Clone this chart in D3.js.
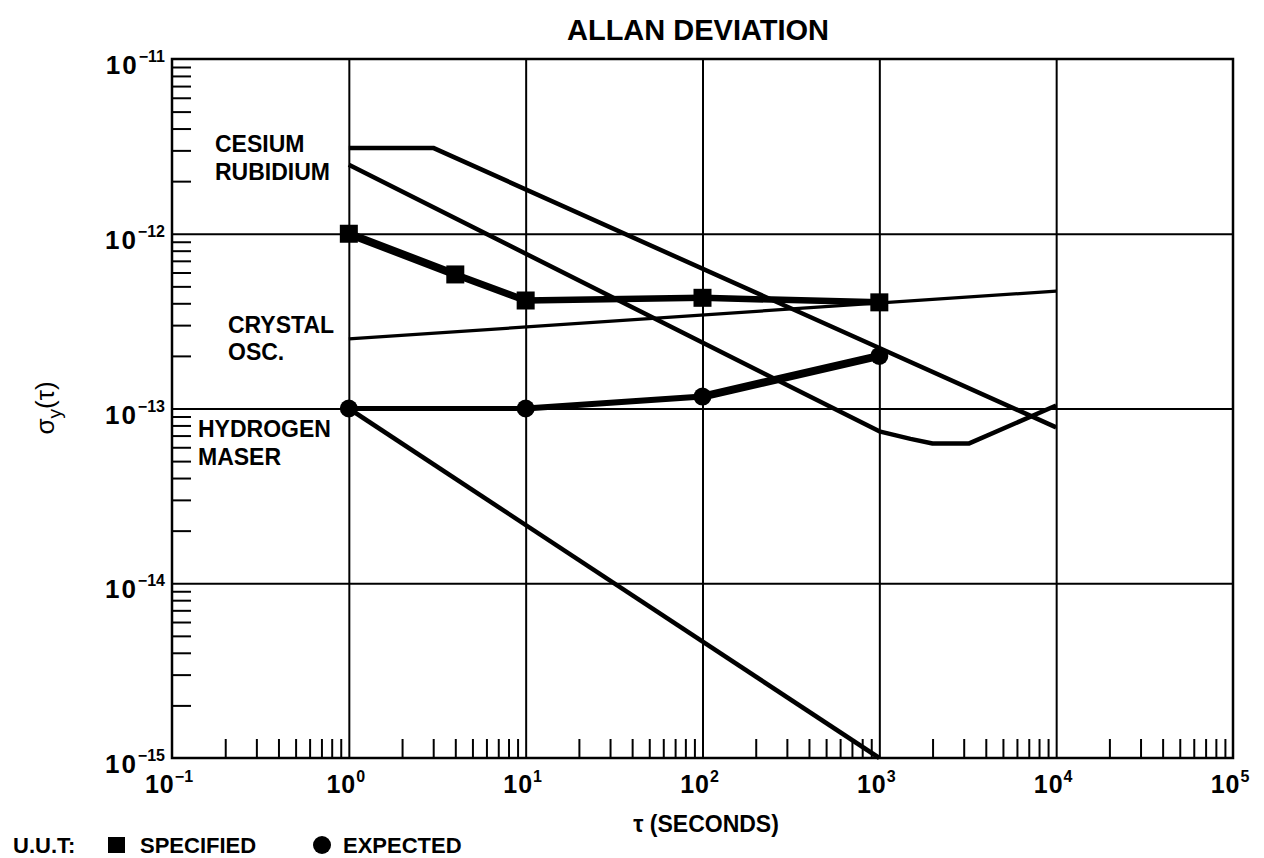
<!DOCTYPE html>
<html>
<head>
<meta charset="utf-8">
<script src="https://cdn.jsdelivr.net/npm/d3@7"></script>
<style>
  html, body { margin: 0; padding: 0; background: #fff; }
  svg { display: block; }
  text { font-family: "Liberation Sans", Arial, Helvetica, sans-serif; font-weight: bold; fill: #000; }
</style>
</head>
<body>
<svg id="chart" width="1264" height="858"></svg>
<script>
// ---------------- DATA ----------------
const title = "ALLAN DEVIATION";
const xTitle = "τ (SECONDS)";
const xTickExponents = [-1, 0, 1, 2, 3, 4, 5];
const yTickExponents = [-15, -14, -13, -12, -11];

// U.U.T. specified (squares)
const tauSpecified = [1, 4, 10, 100, 1000];
const sigmaSpecified = [1.0e-12, 5.85e-13, 4.15e-13, 4.3e-13, 4.05e-13];
// U.U.T. expected (circles)
const tauExpected = [1, 10, 100, 1000];
const sigmaExpected = [1.0e-13, 1.0e-13, 1.17e-13, 2.0e-13];
// reference oscillators
const tauCesium = [1, 3, 10000];
const sigmaCesium = [3.1e-12, 3.1e-12, 7.8e-14];
const tauRubidium = [1, 1000, 1500, 2000, 3200, 10000];
const sigmaRubidium = [2.48e-12, 7.4e-14, 6.7e-14, 6.3e-14, 6.3e-14, 1.04e-13];
const tauCrystal = [1, 10000];
const sigmaCrystal = [2.5e-13, 4.7e-13];
const tauHydrogen = [1, 1000];
const sigmaHydrogen = [1.0e-13, 1.0e-15];

const sourceLabels = [["CESIUM", "RUBIDIUM"], ["CRYSTAL", "OSC."], ["HYDROGEN", "MASER"]];
const legendPrefix = "U.U.T:";
const legendNames = ["SPECIFIED", "EXPECTED"];

// ---------------- LAYOUT ----------------
const L = 172, R = 1233, T = 59, B = 758;
const svg = d3.select("#chart");
svg.append("rect").attr("width", 1264).attr("height", 858).attr("fill", "#fff");

const x = d3.scaleLog().domain([1e-1, 1e5]).range([L, R]);
const y = d3.scaleLog().domain([1e-15, 1e-11]).range([B, T]);

const decadesX = xTickExponents.map(e => Math.pow(10, e));
const decadesY = yTickExponents.map(e => Math.pow(10, e));
const minorX = [];
decadesX.slice(0, -1).forEach(d => { for (let k = 2; k <= 9; k++) minorX.push(d * k); });
const minorY = [];
decadesY.slice(0, -1).forEach(d => { for (let k = 2; k <= 9; k++) minorY.push(d * k); });

function styleAxis(g, w) {
  g.select(".domain").remove();
  g.selectAll(".tick line").attr("stroke", "#000").attr("stroke-width", w);
  g.selectAll(".tick text").remove();
}

// grid lines (decades)
svg.append("g").attr("transform", `translate(0,${B})`)
  .call(d3.axisBottom(x).tickValues(decadesX.slice(1, -1)).tickSize(-(B - T)).tickFormat(""))
  .call(g => styleAxis(g, 2));
svg.append("g").attr("transform", `translate(${L},0)`)
  .call(d3.axisLeft(y).tickValues(decadesY.slice(1, -1)).tickSize(-(R - L)).tickFormat(""))
  .call(g => styleAxis(g, 2));

// minor ticks (inside)
svg.append("g").attr("transform", `translate(0,${B})`)
  .call(d3.axisBottom(x).tickValues(minorX).tickSize(-19).tickFormat(""))
  .call(g => styleAxis(g, 2));
svg.append("g").attr("transform", `translate(${L},0)`)
  .call(d3.axisLeft(y).tickValues(minorY).tickSize(-19).tickFormat(""))
  .call(g => styleAxis(g, 2));

// frame
svg.append("rect").attr("x", L).attr("y", T).attr("width", R - L).attr("height", B - T)
  .attr("fill", "none").attr("stroke", "#000").attr("stroke-width", 2.5);

// tick labels
const xl = svg.append("g");
xTickExponents.forEach(e => {
  const t = xl.append("text").attr("x", x(Math.pow(10, e)) - 3).attr("y", B + 35)
    .attr("text-anchor", "middle").style("font-size", "25px");
  t.append("tspan").style("letter-spacing", "1px").text("10");
  t.append("tspan").attr("dy", -11).style("font-size", "16px").text(String(e).replace("-", "\u2212"));
});
const yl = svg.append("g");
yTickExponents.forEach(e => {
  const t = yl.append("text").attr("x", 165).attr("y", y(Math.pow(10, e)) + 15)
    .attr("text-anchor", "end").style("font-size", "26px");
  t.append("tspan").style("letter-spacing", "2px").text("10");
  t.append("tspan").attr("dy", -12).style("font-size", "16px").text(String(e).replace("-", "\u2212"));
});

// titles
svg.append("text").attr("x", 698).attr("y", 40).attr("text-anchor", "middle")
  .style("font-size", "29px").text(title);
svg.append("text").attr("x", 706).attr("y", 832).attr("text-anchor", "middle")
  .style("font-size", "23px").text(xTitle);
const yt = svg.append("text").attr("transform", "translate(54,408) rotate(-90)")
  .attr("text-anchor", "middle").style("font-size", "26px").style("font-weight", "normal");
yt.append("tspan").text("σ");
yt.append("tspan").attr("dy", 7).style("font-size", "19px").text("y");
yt.append("tspan").attr("dy", -7).text("(τ)");

// lines
const line = d3.line().x(d => x(d[0])).y(d => y(d[1]));
function drawSeries(taus, sigmas, w) {
  svg.append("path").datum(d3.zip(taus, sigmas)).attr("d", line)
    .attr("fill", "none").attr("stroke", "#000").attr("stroke-width", w)
    .attr("stroke-linejoin", "round").attr("stroke-linecap", "butt");
}
drawSeries(tauCesium, sigmaCesium, 4.5);
drawSeries(tauRubidium, sigmaRubidium, 4.5);
drawSeries(tauCrystal, sigmaCrystal, 3.2);
drawSeries(tauHydrogen, sigmaHydrogen, 4.5);

// U.U.T. series: segment widths
const specWidths = [8, 7, 6.5, 6.5];
const expWidths = [5, 6, 8];
function drawSegments(taus, sigmas, widths) {
  const pts = d3.zip(taus, sigmas);
  d3.pairs(pts).forEach((p, i) => {
    svg.append("path").datum(p).attr("d", line).attr("fill", "none")
      .attr("stroke", "#000").attr("stroke-width", widths[i]).attr("stroke-linecap", "round");
  });
}
drawSegments(tauSpecified, sigmaSpecified, specWidths);
drawSegments(tauExpected, sigmaExpected, expWidths);

svg.append("g").selectAll("rect").data(d3.zip(tauSpecified, sigmaSpecified)).join("rect")
  .attr("x", d => x(d[0]) - 9).attr("y", d => y(d[1]) - 9)
  .attr("width", 18).attr("height", 18).attr("fill", "#000");
svg.append("g").selectAll("circle").data(d3.zip(tauExpected, sigmaExpected)).join("circle")
  .attr("cx", d => x(d[0])).attr("cy", d => y(d[1])).attr("r", 9).attr("fill", "#000");

// source labels
const labelPos = [[215, 152, 180], [228, 333, 360], [198, 437, 465]];
sourceLabels.forEach((lines, i) => {
  lines.forEach((s, j) => {
    svg.append("text").attr("x", labelPos[i][0]).attr("y", labelPos[i][1 + j])
      .style("font-size", "23px").text(s);
  });
});

// legend
svg.append("text").attr("x", 13).attr("y", 853).style("font-size", "22px").text(legendPrefix);
svg.append("rect").attr("x", 108).attr("y", 837).attr("width", 17).attr("height", 16).attr("fill", "#000");
svg.append("text").attr("x", 140).attr("y", 853).style("font-size", "22px").text(legendNames[0]);
svg.append("circle").attr("cx", 322).attr("cy", 845).attr("r", 9).attr("fill", "#000");
svg.append("text").attr("x", 343).attr("y", 853).style("font-size", "22px").text(legendNames[1]);
</script>
</body>
</html>
